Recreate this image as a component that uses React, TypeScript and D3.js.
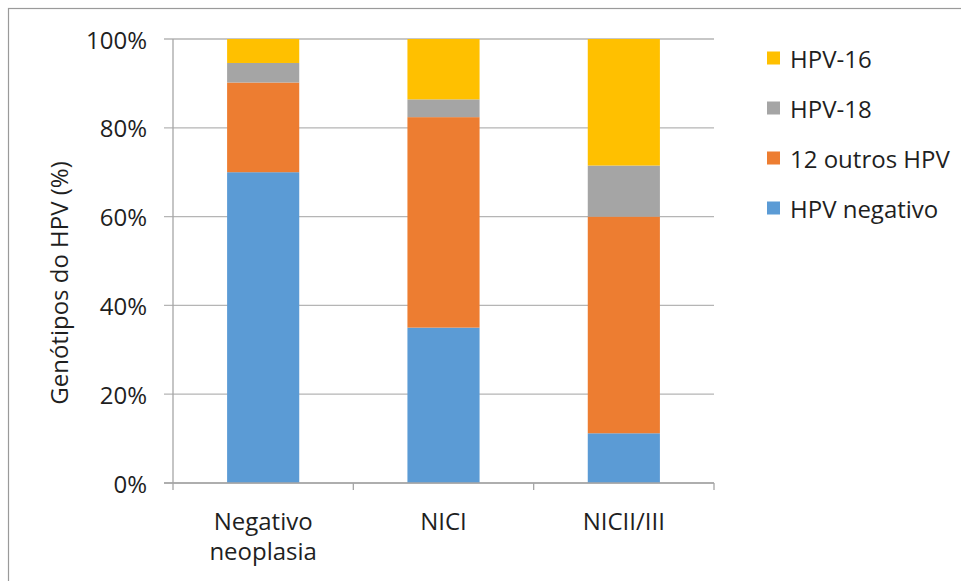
import React from "react";
import * as d3 from "d3";

const categories: string[][] = [["Negativo", "neoplasia"], ["NICI"], ["NICII/III"]];
const categoryKeys = ["Negativo neoplasia", "NICI", "NICII/III"];

// Percentages per category, stacked from the bottom up
const hpvNegativo = [70.0, 35.0, 11.2];
const outros12 = [20.2, 47.4, 48.8];
const hpv18 = [4.4, 4.0, 11.5];
const hpv16 = [5.4, 13.6, 28.5];

const seriesNames = ["HPV negativo", "12 outros HPV", "HPV-18", "HPV-16"];
const seriesColors = ["#5B9BD5", "#ED7D31", "#A5A5A5", "#FFC000"];
const yTicks = [0, 20, 40, 60, 80, 100];
const yTitle = "Genótipos do HPV (%)";

const FONT = "'Open Sans', 'DejaVu Sans', sans-serif";
const FS = 24;
const W = 961;
const H = 581;
const left = 173;
const right = 714;
const top = 39;
const bottom = 483;

export default function App() {
  const x = d3
    .scaleBand<string>()
    .domain(categoryKeys)
    .range([left, right])
    .paddingInner(0.6)
    .paddingOuter(0.3);
  const y = d3.scaleLinear().domain([0, 100]).range([bottom, top]);

  const rows = categoryKeys.map((k, i) => ({
    key: k,
    "HPV negativo": hpvNegativo[i],
    "12 outros HPV": outros12[i],
    "HPV-18": hpv18[i],
    "HPV-16": hpv16[i],
  }));
  const stacked = d3.stack<any>().keys(seriesNames)(rows);

  const step = x.step();
  const boundaries = d3.range(categoryKeys.length + 1).map((i) => left + i * step);

  const legendOrder = [3, 2, 1, 0];
  const legendY = d3.scalePoint<number>().domain([0, 1, 2, 3]).range([58, 208]);

  return (
    <svg
      width={W}
      height={H}
      style={{ position: "absolute", left: 0, top: 0, background: "#fff" }}
      fontFamily={FONT}
    >
      <rect x={0} y={0} width={W} height={H} fill="#fff" />
      <rect x={8.5} y={8.5} width={W + 10} height={H + 10} fill="none" stroke="#9a9a9a" strokeWidth={1.2} />

      {/* horizontal gridlines */}
      {yTicks.map((t) => (
        <line key={t} x1={left - 9} x2={right} y1={y(t)} y2={y(t)} stroke="#b5b5b5" strokeWidth={1.3} />
      ))}

      {/* stacked bars */}
      {stacked.map((s, si) => (
        <g key={s.key} fill={seriesColors[si]}>
          {s.map((d, i) => (
            <rect
              key={i}
              x={x(categoryKeys[i])}
              y={y(d[1])}
              width={x.bandwidth()}
              height={y(d[0]) - y(d[1])}
            />
          ))}
        </g>
      ))}

      {/* axes */}
      <line x1={left} x2={left} y1={top} y2={bottom} stroke="#a6a6a6" strokeWidth={1.3} />
      <line x1={left - 9} x2={right} y1={bottom} y2={bottom} stroke="#a6a6a6" strokeWidth={1.3} />
      {boundaries.map((b, i) => (
        <line key={i} x1={b} x2={b} y1={bottom} y2={bottom + 7} stroke="#a6a6a6" strokeWidth={1.3} />
      ))}

      {/* y tick labels */}
      {yTicks.map((t) => (
        <text
          key={t}
          x={147}
          y={y(t)}
          textAnchor="end"
          dominantBaseline="central"
          fontSize={FS}
          fill="#1f1f1f"
        >
          {t}%
        </text>
      ))}

      {/* category labels */}
      {categories.map((lines, i) => (
        <text
          key={i}
          x={(x(categoryKeys[i]) as number) + x.bandwidth() / 2}
          y={530}
          textAnchor="middle"
          fontSize={FS}
          fill="#1f1f1f"
        >
          {lines.map((ln, j) => (
            <tspan key={j} x={(x(categoryKeys[i]) as number) + x.bandwidth() / 2} dy={j === 0 ? 0 : 30}>
              {ln}
            </tspan>
          ))}
        </text>
      ))}

      {/* y axis title */}
      <text
        transform={`translate(68, 283) rotate(-90)`}
        textAnchor="middle"
        fontSize={FS}
        fill="#1f1f1f"
      >
        {yTitle}
      </text>

      {/* legend */}
      {legendOrder.map((si, r) => (
        <g key={si} transform={`translate(767, ${legendY(r)})`}>
          <rect x={0} y={-6.5} width={13} height={13} fill={seriesColors[si]} />
          <text x={23} y={0} dominantBaseline="central" fontSize={FS} fill="#1f1f1f">
            {seriesNames[si]}
          </text>
        </g>
      ))}
    </svg>
  );
}
